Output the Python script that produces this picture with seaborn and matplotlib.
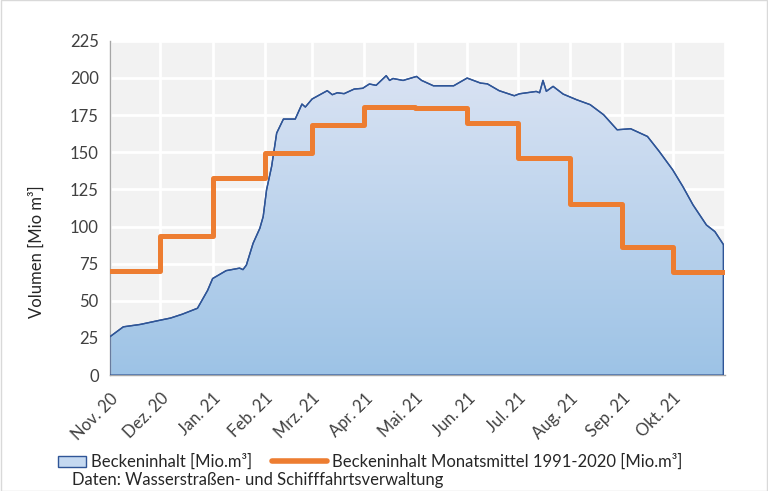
import numpy as np
import pandas as pd
import matplotlib
matplotlib.use("Agg")
import matplotlib.pyplot as plt
import matplotlib.dates as mdates
from matplotlib.colors import LinearSegmentedColormap
from matplotlib.patches import Rectangle
from matplotlib.lines import Line2D
import seaborn as sns

# Daten
start = pd.Timestamp("2020-11-01")
day_offsets = [0, 8, 18, 30, 36, 43, 52, 58, 61, 69, 77, 79, 81, 85, 89, 91, 93, 96, 99,
               103, 110, 114, 116, 120, 129, 132, 135, 139, 145, 150, 154, 158, 164, 166,
               168, 174, 182, 185, 192, 204, 212, 220, 224, 231, 240, 243, 253, 255, 257,
               259, 263, 269, 277, 285, 293, 301, 309, 319, 326, 334, 340, 346, 354, 359, 364]
volume = [25.8, 32.5, 34.1, 37.0, 38.4, 41.0, 45.0, 57.0, 65.0, 70.3, 72.0, 71.0, 74.0, 88.7,
          98.8, 106.7, 124.7, 140.4, 162.9, 172.3, 172.3, 182.4, 180.4, 185.8, 191.4, 188.7,
          190.0, 189.4, 192.5, 193.0, 195.9, 195.0, 201.5, 198.3, 199.6, 198.3, 201.0, 198.3,
          194.7, 194.7, 199.9, 196.5, 196.0, 191.4, 188.0, 189.3, 190.9, 190.0, 198.3, 191.0,
          194.3, 189.1, 185.3, 182.0, 175.2, 165.1, 165.8, 160.6, 150.5, 138.1, 126.9, 114.6,
          101.0, 96.6, 88.0]
month_labels = ["Nov. 20", "Dez. 20", "Jan. 21", "Feb. 21", "Mrz. 21", "Apr. 21",
                "Mai. 21", "Jun. 21", "Jul. 21", "Aug. 21", "Sep. 21", "Okt. 21"]
monthly_mean = [70, 93.5, 132.5, 149.5, 168, 180.5, 179.5, 169.5, 146, 115, 86, 69.5]

sns.set_theme(style="white")
plt.rcParams['font.family'] = ['Lato', 'DejaVu Sans']

df = pd.DataFrame({'Datum': start + pd.to_timedelta(day_offsets, unit='D'),
                   'Volumen': volume})
months = pd.date_range(start, periods=13, freq='MS')
df_mean = pd.DataFrame({'Datum': months, 'Mittel': monthly_mean + [monthly_mean[-1]]})

fig = plt.figure(figsize=(7.68, 4.91), dpi=100)
ax = fig.add_axes([0.143, 0.236, 0.801, 0.681])
ax.set_facecolor('#F2F2F2')

# Flaeche mit Farbverlauf
xnum = mdates.date2num(df['Datum'])
poly = ax.fill_between(df['Datum'], 0, df['Volumen'], facecolor='none',
                       edgecolor='#2F5597', linewidth=1, zorder=3)
cmap = LinearSegmentedColormap.from_list('blau', ['#9DC3E6', '#DAE3F3'])
grad = np.linspace(0, 1, 256).reshape(-1, 1)
img = ax.imshow(grad, cmap=cmap, origin='lower', aspect='auto',
                extent=[xnum[0], xnum[-1], 0, 205], zorder=2)
img.set_clip_path(poly.get_paths()[0], transform=ax.transData)

sns.lineplot(data=df, x='Datum', y='Volumen', color='#2F5597', linewidth=1, ax=ax, zorder=3)
sns.lineplot(data=df_mean, x='Datum', y='Mittel', drawstyle='steps-post',
             color='#ED7D31', linewidth=3.6, ax=ax, zorder=4)

ax.set_xlim(months[0], months[-1])
ax.set_ylim(0, 225)
ax.set_yticks(range(0, 226, 25))
ax.set_xticks(months)
ax.set_xticklabels(month_labels + [''], rotation=45, ha='right', rotation_mode='anchor')
ax.set_xlabel('')
ax.set_ylabel('Volumen [Mio m³]', fontsize=12, color='#262626')
ax.yaxis.set_label_coords(-0.105, 0.37)

ax.grid(True, color='white', linewidth=2)
ax.set_axisbelow(True)
for s in ['top', 'right']:
    ax.spines[s].set_visible(False)
for s in ['left', 'bottom']:
    ax.spines[s].set_color('#A6A6A6')
    ax.spines[s].set_linewidth(1)
ax.tick_params(axis='both', direction='out', length=5, width=1, color='#A6A6A6',
               labelsize=12, labelcolor='#404040', pad=3)
ax.tick_params(axis='x', pad=6)

# Legende in zwei Teilen, damit die Symbole unterschiedlich breit sein koennen
leg_y = 1 - 462 / 491
leg1 = fig.legend([Rectangle((0, 0), 1, 1, facecolor='#C5D9F1', edgecolor='#2F5597', linewidth=1)],
                  ['Beckeninhalt [Mio.m³]'], loc='center left', bbox_to_anchor=(58 / 768, leg_y),
                  frameon=False, handlelength=1.7, handleheight=0.6, handletextpad=0.3,
                  borderaxespad=0, borderpad=0, fontsize=12, labelcolor='#262626')
leg2 = fig.legend([Line2D([0], [0], color='#ED7D31', linewidth=4)],
                  ['Beckeninhalt Monatsmittel 1991-2020 [Mio.m³]'], loc='center left',
                  bbox_to_anchor=(272 / 768, leg_y), frameon=False, handlelength=3.3,
                  handletextpad=0.3, borderaxespad=0, borderpad=0, fontsize=12,
                  labelcolor='#262626')
fig.text(72 / 768, 1 - 480 / 491, 'Daten: Wasserstraßen- und Schifffahrtsverwaltung',
         va='center', fontsize=12, color='#262626')

fig.patches.append(Rectangle((0.001, 0.001), 0.998, 0.998, transform=fig.transFigure,
                             fill=False, edgecolor='#D9D9D9', linewidth=1))

fig.savefig('out.png', dpi=100)
